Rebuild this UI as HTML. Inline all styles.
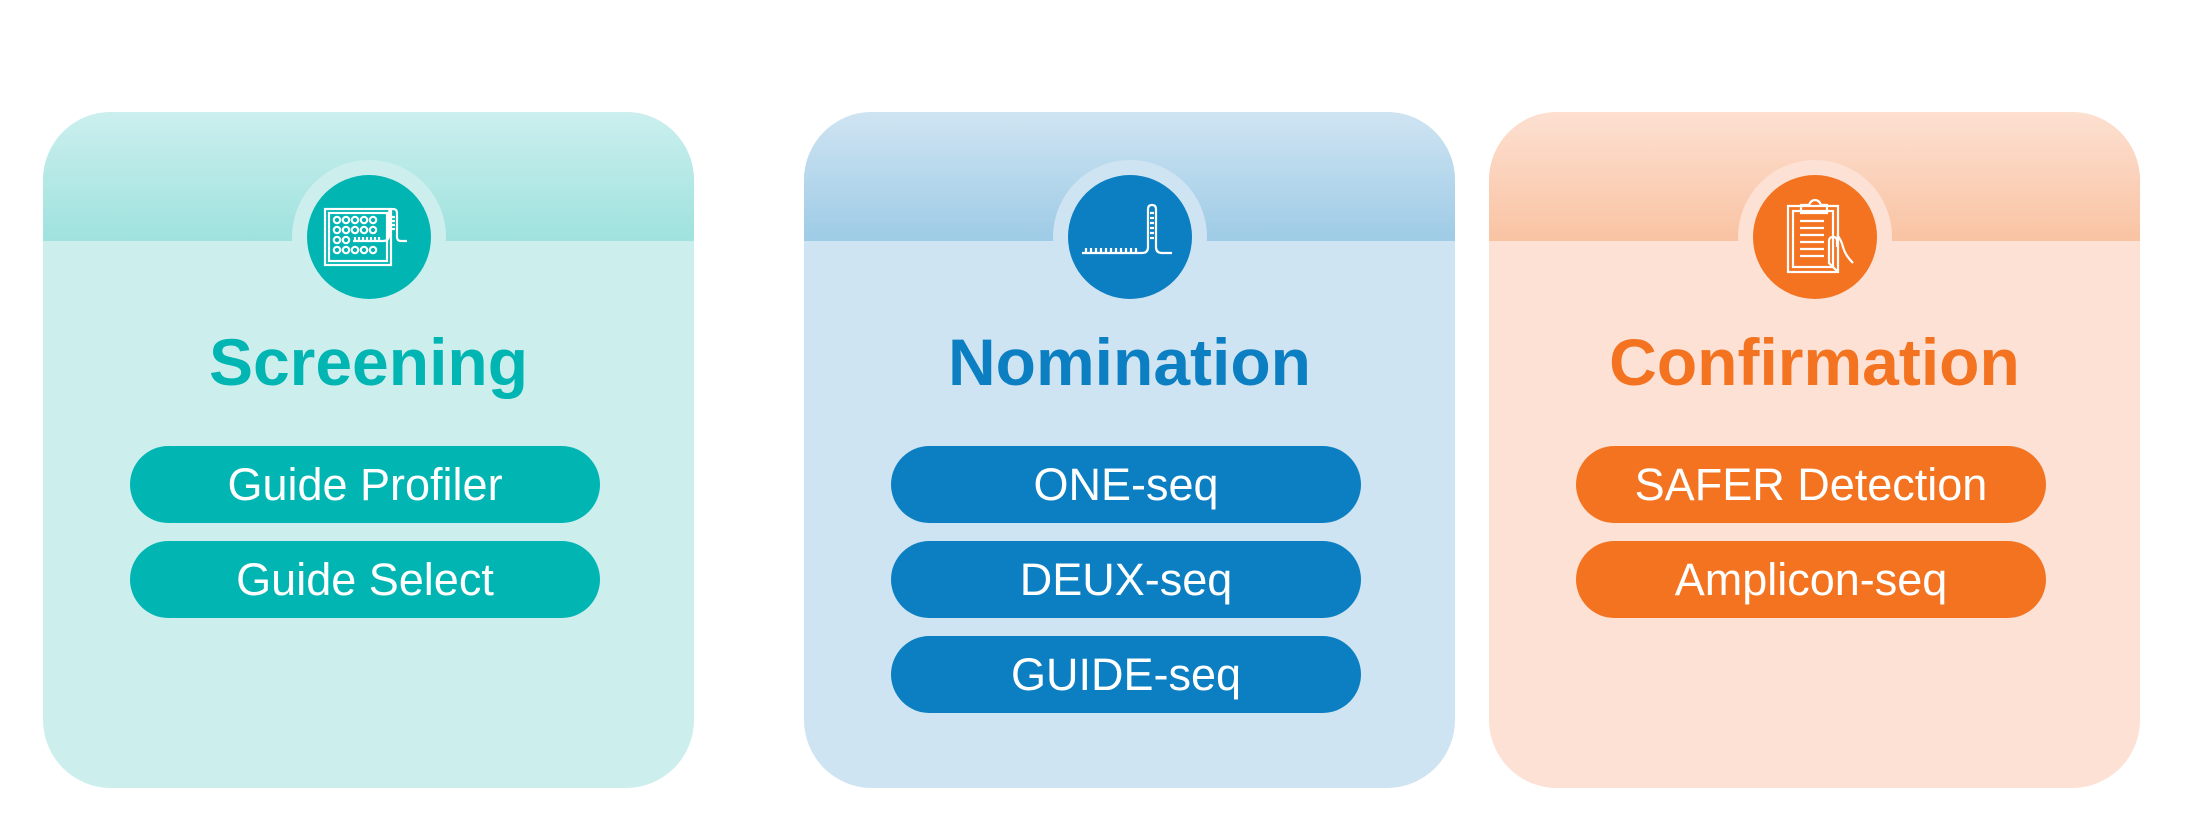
<!DOCTYPE html>
<html><head><meta charset="utf-8"><style>
body{margin:0;width:2186px;height:835px;background:#fff;position:relative;overflow:hidden;font-family:"Liberation Sans",sans-serif}
.card{position:absolute;top:112px;width:651px;height:676px;border-radius:68px;overflow:hidden}
.hdr{position:absolute;left:0;top:0;width:100%;height:129px}
.halo{position:absolute;left:50%;top:48px;width:154px;height:154px;margin-left:-77px;border-radius:50%}
.circ{position:absolute;left:50%;top:63px;width:124px;height:124px;margin-left:-62px;border-radius:50%}
.circ svg{position:absolute;left:0;top:0}
.title{position:absolute;left:0;width:100%;top:213px;line-height:74px;text-align:center;font-weight:bold;font-size:66px}
.pill{position:absolute;left:87px;width:470px;height:77px;border-radius:39px;color:#fff;text-align:center;line-height:77px;font-size:45px}
</style></head><body>

<div class="card" style="left:43px;background:#ccefee">
 <div class="hdr" style="background:linear-gradient(#cbefee,#9fe2de)"></div>
 <div class="halo" style="background:#ccefee"></div>
 <div class="circ" style="background:#00b5b2">
  <svg width="124" height="124" viewBox="0 0 124 124" fill="none" stroke="#fff" stroke-width="2.2">
   <rect x="18" y="34" width="66" height="56"/><rect x="22" y="38" width="58" height="48"/>
   <g>
    <circle cx="30" cy="45" r="3.2"/><circle cx="39" cy="45" r="3.2"/><circle cx="48" cy="45" r="3.2"/><circle cx="57" cy="45" r="3.2"/><circle cx="66" cy="45" r="3.2"/>
    <circle cx="30" cy="55" r="3.2"/><circle cx="39" cy="55" r="3.2"/><circle cx="48" cy="55" r="3.2"/><circle cx="57" cy="55" r="3.2"/><circle cx="66" cy="55" r="3.2"/>
    <circle cx="30" cy="65" r="3.2"/><circle cx="39" cy="65" r="3.2"/>
    <circle cx="30" cy="75" r="3.2"/><circle cx="39" cy="75" r="3.2"/><circle cx="48" cy="75" r="3.2"/><circle cx="57" cy="75" r="3.2"/><circle cx="66" cy="75" r="3.2"/>
   </g>
   <path d="M46 66H76Q82 66 82 60V38Q82 34 86 34Q90 34 90 38V62Q90 66 94 66H100"/>
   <path d="M48 66V62M52 66V62M56 66V62M60 66V62M64 66V62M68 66V62M72 66V62M84 42H88M84 46H88M84 50H88M84 54H88"/>
  </svg>
 </div>
 <div class="title" style="color:#00b5b2">Screening</div>
 <div class="pill" style="top:334px;background:#00b5b2">Guide Profiler</div>
 <div class="pill" style="top:429px;background:#00b5b2">Guide Select</div>
</div>

<div class="card" style="left:804px;background:#cfe4f2">
 <div class="hdr" style="background:linear-gradient(#cfe4f2,#9ecbe6)"></div>
 <div class="halo" style="background:#cfe4f2"></div>
 <div class="circ" style="background:#0b7fc2">
  <svg width="124" height="124" viewBox="0 0 124 124" fill="none" stroke="#fff" stroke-width="2.2">
   <path d="M14 78H74Q80 78 80 72V34Q80 30 84 30Q88 30 88 34V72Q88 78 94 78H104"/>
   <path d="M18 78V73M23 78V73M28 78V73M33 78V73M38 78V73M43 78V73M48 78V73M53 78V73M58 78V73M63 78V73M68 78V73M82 38H86M82 43H86M82 48H86M82 53H86M82 58H86M82 63H86"/>
  </svg>
 </div>
 <div class="title" style="color:#0b7fc2">Nomination</div>
 <div class="pill" style="top:334px;background:#0b7fc2">ONE-seq</div>
 <div class="pill" style="top:429px;background:#0b7fc2">DEUX-seq</div>
 <div class="pill" style="top:524px;background:#0b7fc2">GUIDE-seq</div>
</div>

<div class="card" style="left:1489px;background:#fce1d4">
 <div class="hdr" style="background:linear-gradient(#fde0d1,#f9c3a3)"></div>
 <div class="halo" style="background:#fce1d4"></div>
 <div class="circ" style="background:#f37321">
  <svg width="124" height="124" viewBox="0 0 124 124" fill="none" stroke="#fff" stroke-width="2.2">
   <rect x="35" y="31" width="50" height="66"/><rect x="40" y="36" width="40" height="56"/>
   <path d="M48 38V30H56Q58 25 62 25Q66 25 68 30H74V38Z"/>
   <path d="M47 46H71M47 53H71M47 60H71M47 67H71M47 74H71M47 81H71"/>
   <path d="M84 96L76 88V66Q76 62 80 62Q84 62 84 66V72M84 60Q88 64 90 72Q92 80 100 88"/>
  </svg>
 </div>
 <div class="title" style="color:#f37321">Confirmation</div>
 <div class="pill" style="top:334px;background:#f37321">SAFER Detection</div>
 <div class="pill" style="top:429px;background:#f37321">Amplicon-seq</div>
</div>

</body></html>
